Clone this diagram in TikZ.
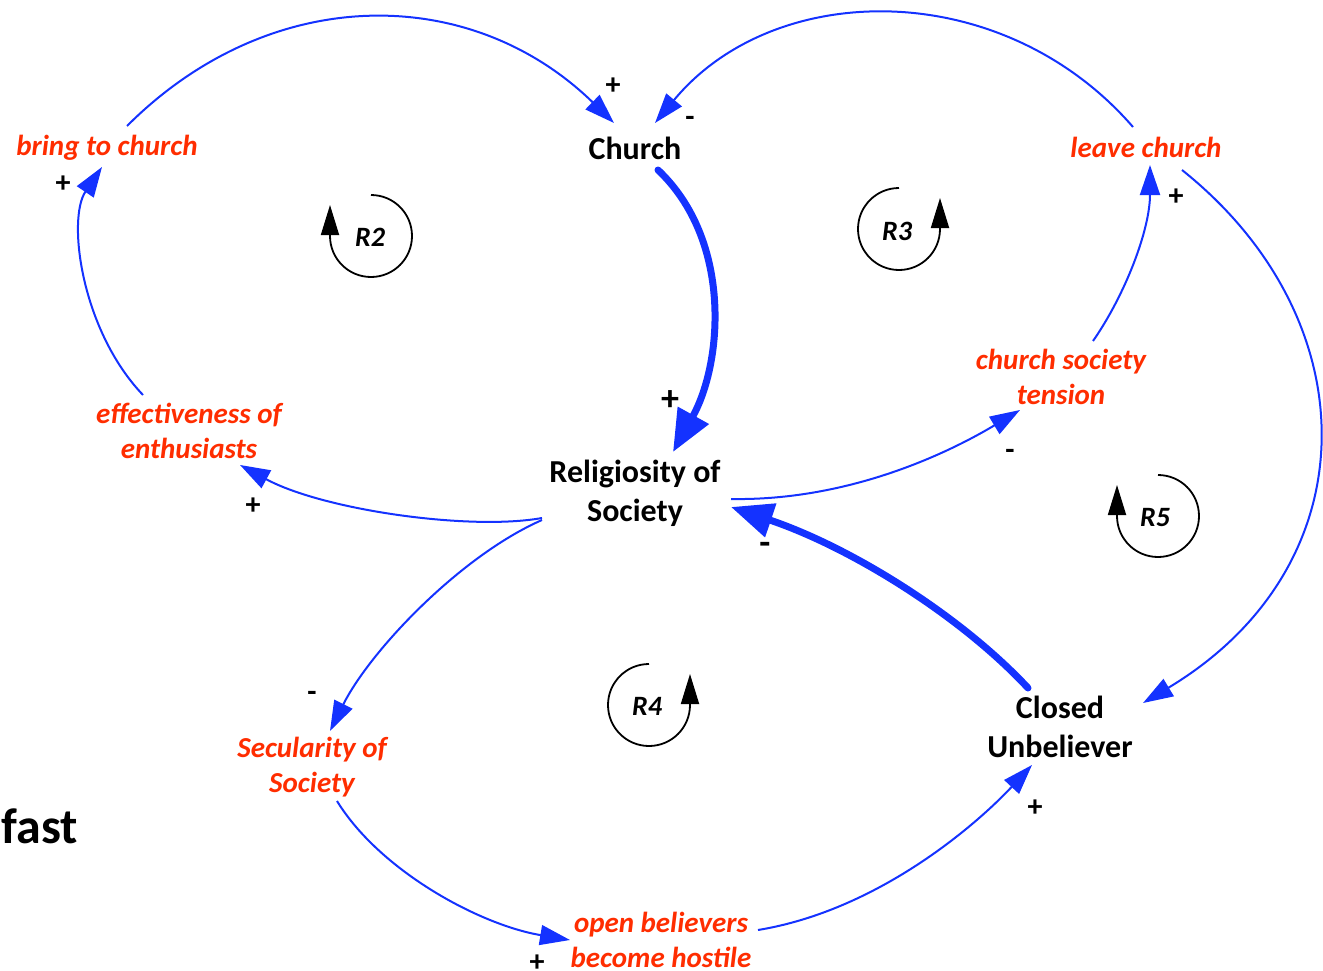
\documentclass[tikz,border=0pt]{standalone}
\usepackage{fontspec}
\setmainfont{Carlito}
\usetikzlibrary{arrows.meta}
\definecolor{cldblue}{RGB}{20,50,255}
\definecolor{cldred}{RGB}{255,45,0}
\begin{document}
\begin{tikzpicture}[x=1pt,y=1pt,
  var/.style={font=\bfseries\fontsize{32}{39}\selectfont, align=center, inner sep=0pt, text=black},
  aux/.style={font=\bfseries\itshape\fontsize{29}{35}\selectfont, align=center, inner sep=0pt, text=cldred},
  link/.style={draw=cldblue, line width=2pt, -{Triangle[length=30pt,width=20pt]}},
  strong/.style={draw=cldblue, line width=7pt, line cap=round, -{Triangle[length=42pt,width=34pt]}},
  pol/.style={font=\bfseries\fontsize{30}{30}\selectfont, inner sep=0pt},
  bigpol/.style={font=\bfseries\fontsize{36}{36}\selectfont, inner sep=0pt},
  loopname/.style={font=\bfseries\itshape\fontsize{28}{28}\selectfont, inner sep=0pt},
  loopline/.style={draw=black, line width=1.8pt, -{Triangle[length=30pt,width=18pt]}}
]
\useasboundingbox (0,0) rectangle (1323,-971);

% variables
\node[var] (church) at (635,-148) {Church};
\node[var] (relig) at (635,-493) {Religiosity of\\Society};
\node[var] (closed) at (1060,-727) {Closed\\Unbeliever};
\node[aux] (bring) at (107,-148) {bring to church};
\node[aux] (leave) at (1146,-147) {leave church};
\node[aux] (tension) at (1061,-377) {church society\\tension};
\node[aux] (effect) at (189,-431) {effectiveness of\\enthusiasts};
\node[aux] (secular) at (312,-767) {Secularity of\\Society};
\node[aux] (openb) at (661,-940) {open believers\\become hostile};
\node[font=\bfseries\fontsize{50}{50}\selectfont, inner sep=0pt, anchor=base east] (fast) at (78,-843) {fast};

% links
\draw[link] ([shift={(20,22)}]bring.center) .. controls +(143,143) and +(-144,140) .. ([shift={(-21,25)}]church.center);
\draw[link] ([shift={(-13,20)}]leave.center) .. controls +(-130,150) and +(120,145) .. ([shift={(20,25)}]church.center);
\draw[strong] ([shift={(23,-22)}]church.center) .. controls +(74,-70) and +(50,90) .. ([shift={(38,41)}]relig.center);
\draw[link] ([shift={(-93,-25)}]relig.center) .. controls +(-72,-13) and +(83,-45) .. ([shift={(51,-34)}]effect.center);
\draw[link] ([shift={(-46,36)}]effect.center) .. controls +(-62,65) and +(-35,-52) .. ([shift={(-5,-19)}]bring.center);
\draw[link] ([shift={(96,-6)}]relig.center) .. controls +(119,-2) and +(-70,-42) .. ([shift={(-41,-33)}]tension.center);
\draw[link] ([shift={(32,36)}]tension.center) .. controls +(32,46) and +(0,-65) .. ([shift={(4,-18)}]leave.center);
\draw[link] ([shift={(36,-23)}]leave.center) .. controls +(188,-150) and +(228,137) .. ([shift={(83,24)}]closed.center);
\draw[strong] ([shift={(-32,39)}]closed.center) .. controls +(-68,73) and +(119,-40) .. ([shift={(96,-14)}]relig.center);
\draw[link] ([shift={(-93,-27)}]relig.center) .. controls +(-82,-36) and +(40,80) .. ([shift={(18,36)}]secular.center);
\draw[link] ([shift={(25,-34)}]secular.center) .. controls +(43,-70) and +(-90,15) .. ([shift={(-91,0)}]openb.center);
\draw[link] ([shift={(97,10)}]openb.center) .. controls +(122,20) and +(-53,-57) .. ([shift={(-28,-38)}]closed.center);

% polarities
\node[pol] (p1) at (613,-86) {+};
\node[pol] (p2) at (690,-121) {-};
\node[pol] (p3) at (63,-184) {+};
\node[pol] (p4) at (253,-506) {+};
\node[pol] (p5) at (1010,-454) {-};
\node[pol] (p6) at (1176,-197) {+};
\node[pol] (p7) at (312,-696) {-};
\node[pol] (p8) at (537,-963) {+};
\node[pol] (p9) at (1035,-808) {+};
\node[bigpol] (p10) at (670,-401) {+};
\node[bigpol] (p11) at (765,-548) {-};

% loop markers
\node[loopname] (r2) at (370,-237) {R2};
\node[loopname] (r3) at (897,-231) {R3};
\node[loopname] (r4) at (647,-706) {R4};
\node[loopname] (r5) at (1155,-518) {R5};
\draw[loopline] (371,-195) arc[start angle=90, end angle=-180, radius=41pt] -- ++(0,31);
\draw[loopline] (899,-188) arc[start angle=90, end angle=360, radius=41pt] -- ++(0,31);
\draw[loopline] (649,-664) arc[start angle=90, end angle=360, radius=41pt] -- ++(0,31);
\draw[loopline] (1158,-475) arc[start angle=90, end angle=-180, radius=41pt] -- ++(0,31);
\end{tikzpicture}
\end{document}
